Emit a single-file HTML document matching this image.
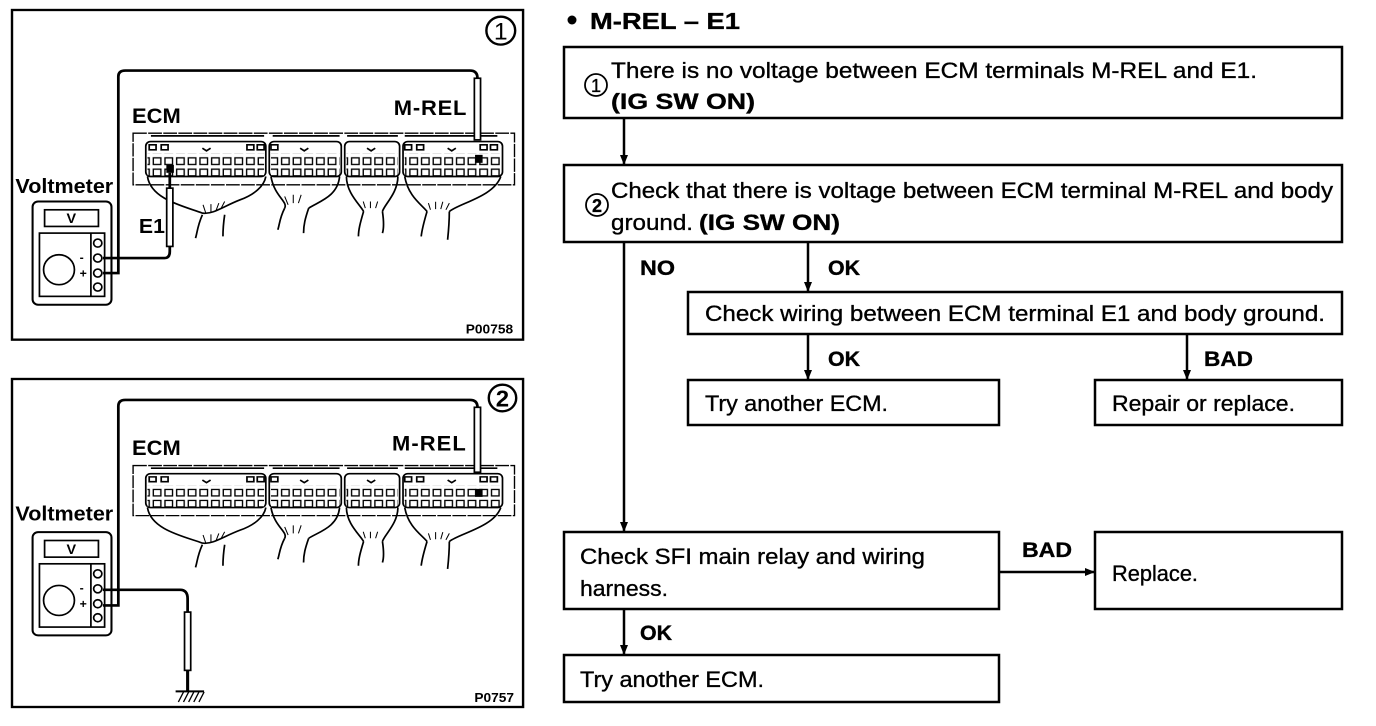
<!DOCTYPE html>
<html><head><meta charset="utf-8"><style>
html,body{margin:0;padding:0;background:#fff}
svg{display:block}
text{font-family:"Liberation Sans",Arial,sans-serif;fill:#000}
.f text{stroke:#000;stroke-width:0.35}
</style></head><body>
<svg width="1376" height="726" viewBox="0 0 1376 726" xmlns="http://www.w3.org/2000/svg">
<defs>
<pattern id="pins" x="0" y="0" width="34" height="34" patternUnits="userSpaceOnUse">
<rect x="5" y="6" width="22" height="20" fill="#fff" stroke="#000" stroke-width="4"/>
</pattern>
<marker id="ar" markerWidth="10" markerHeight="12" refX="9" refY="5" orient="auto" markerUnits="userSpaceOnUse">
<path d="M0,1 L10,5 L0,9 Z" fill="#000"/>
</marker>
<g id="ecm">
 <rect x="388" y="0" width="1112" height="155" fill="none" stroke="#000" stroke-width="4" stroke-dasharray="40 4"/>
 <g stroke="#000" stroke-width="5" fill="#fff">
  <rect x="425" y="25" width="350" height="105" rx="14"/>
  <rect x="785" y="25" width="210" height="105" rx="14"/>
  <rect x="1005" y="25" width="160" height="105" rx="14"/>
  <rect x="1175" y="25" width="290" height="105" rx="14"/>
 </g>
 <g fill="url(#pins)" stroke="none">
  <rect x="430" y="62" width="340" height="68"/>
  <rect x="790" y="62" width="200" height="68"/>
  <rect x="1010" y="62" width="150" height="68"/>
  <rect x="1180" y="62" width="280" height="68"/>
 </g>
 <g stroke="#000" stroke-width="5" fill="none">
  <path d="M440,8 H770 M795,8 H990 M1012,8 H1160 M1180,8 H1450"/>
  <path d="M435,35 h20 v15 h-20z M470,35 h20 v15 h-20z M720,35 h20 v15 h-20z M750,35 h20 v15 h-20z M790,35 h20 v15 h-20z M1180,35 h20 v15 h-20z M1215,35 h20 v15 h-20z M1400,35 h20 v15 h-20z M1430,35 h20 v15 h-20z"/>
  <path d="M590,45 l12,8 l12,-8 M875,45 l12,8 l12,-8 M1070,45 l12,8 l12,-8 M1305,45 l12,8 l12,-8"/>
  <path d="M430,130 C440,200 540,220 590,240 C620,245 650,220 700,200 C740,185 770,160 775,130"/>
  <path d="M790,130 C800,190 840,205 830,225 M990,130 C985,190 930,205 900,225"/>
  <path d="M1010,130 C1010,180 1050,215 1060,235 M1160,130 C1160,180 1120,215 1115,235"/>
  <path d="M1180,130 C1190,190 1230,215 1245,235 M1460,130 C1440,190 1340,210 1310,235"/>
  <path d="M590,245 C575,280 575,300 570,315 M655,245 C650,280 650,300 650,310"/>
  <path d="M830,225 C815,255 815,275 810,290 M900,225 C890,255 885,275 885,300"/>
  <path d="M1060,235 C1050,270 1045,290 1045,310 M1115,235 C1120,270 1118,290 1115,300"/>
  <path d="M1245,235 C1235,270 1230,290 1228,310 M1310,235 C1310,270 1308,290 1305,320"/>
 </g>
 <g stroke="#000" stroke-width="3">
  <path d="M600,240 l-8,-25 M615,238 l0,-25 M630,232 l8,-22 M645,225 l10,-20 M840,215 l-10,-25 M855,210 l0,-25 M870,210 l8,-25 M1065,225 l-6,-20 M1080,225 l0,-20 M1095,225 l6,-20 M1255,230 l-6,-20 M1270,228 l0,-22 M1285,228 l6,-22 M1300,230 l10,-20"/>
 </g>
</g>
<g id="meter">
 <rect x="95" y="0" width="230" height="310" rx="16" fill="none" stroke="#000" stroke-width="6"/>
 <rect x="130" y="25" width="157" height="50" fill="none" stroke="#000" stroke-width="5"/>
 <text x="208" y="65" font-size="42" font-weight="bold" text-anchor="middle">V</text>
 <rect x="115" y="95" width="190" height="190" fill="none" stroke="#000" stroke-width="5"/>
 <line x1="265" y1="95" x2="265" y2="285" stroke="#000" stroke-width="5"/>
 <g fill="#fff" stroke="#000" stroke-width="5">
  <circle cx="285" cy="125" r="12"/><circle cx="285" cy="170" r="12"/><circle cx="285" cy="215" r="12"/><circle cx="285" cy="257" r="12"/>
 </g>
 <circle cx="172" cy="205" r="45" fill="none" stroke="#000" stroke-width="5"/>
 <text x="232" y="180" font-size="36" font-weight="bold">-</text>
 <text x="232" y="228" font-size="36" font-weight="bold">+</text>
</g>
</defs>

<!-- Panel 1 -->
<g transform="translate(0,0) scale(0.343,0.333)">
 <rect x="35" y="30" width="1490" height="990" fill="none" stroke="#000" stroke-width="7"/>
 <circle cx="1460" cy="92" r="42" fill="none" stroke="#000" stroke-width="7"/>
 <text x="1460" y="118" font-size="72" text-anchor="middle">1</text>
 <use href="#ecm" transform="translate(0,400)"/>
 <use href="#meter" transform="translate(0,605)"/>
 <path d="M300,820 H345 V230 Q345,212 365,212 H1370 Q1392,212 1392,235" fill="none" stroke="#000" stroke-width="8"/>
 <rect x="1383" y="235" width="18" height="185" fill="#fff" stroke="#000" stroke-width="5"/>
 <rect x="1385" y="465" width="22" height="24" fill="#000"/>
 <path d="M300,775 H480 Q495,775 495,755 V740" fill="none" stroke="#000" stroke-width="8"/>
 <rect x="486" y="565" width="18" height="175" fill="#fff" stroke="#000" stroke-width="5"/>
 <rect x="485" y="495" width="22" height="24" fill="#000"/>
 <line x1="495" y1="519" x2="495" y2="565" stroke="#000" stroke-width="8"/>
 <text x="385" y="370" font-size="64" font-weight="bold">ECM</text>
 <text x="1148" y="345" font-size="64" font-weight="bold" textLength="212">M-REL</text>
 <text x="45" y="580" font-size="62" font-weight="bold" textLength="285" lengthAdjust="spacingAndGlyphs">Voltmeter</text>
 <text x="405" y="700" font-size="62" font-weight="bold">E1</text>
 <text x="1358" y="1002" font-size="40" font-weight="bold">P00758</text>
</g>

<!-- Panel 2 -->
<g transform="translate(0,369) scale(0.343,0.333)">
 <rect x="35" y="30" width="1490" height="985" fill="none" stroke="#000" stroke-width="7"/>
 <circle cx="1465" cy="87" r="40" fill="none" stroke="#000" stroke-width="7"/>
 <text x="1465" y="112" font-size="70" font-weight="bold" text-anchor="middle">2</text>
 <use href="#ecm" transform="translate(0,290) scale(1,0.97)"/>
 <use href="#meter" transform="translate(0,490)"/>
 <path d="M300,710 H345 V112 Q345,93 365,93 H1370 Q1392,93 1392,115" fill="none" stroke="#000" stroke-width="8"/>
 <rect x="1383" y="115" width="18" height="195" fill="#fff" stroke="#000" stroke-width="5"/>
 <rect x="1385" y="360" width="22" height="24" fill="#000"/>
 <path d="M300,663 H525 Q547,663 547,690 V730" fill="none" stroke="#000" stroke-width="8"/>
 <rect x="538" y="730" width="18" height="175" fill="#fff" stroke="#000" stroke-width="5"/>
 <line x1="547" y1="905" x2="547" y2="968" stroke="#000" stroke-width="9"/>
 <line x1="512" y1="968" x2="595" y2="968" stroke="#000" stroke-width="6"/>
 <path d="M520,1000 l15,-30 M535,1000 l15,-30 M550,1000 l15,-30 M565,1000 l15,-30 M580,1000 l15,-30" stroke="#000" stroke-width="4"/>
 <text x="385" y="258" font-size="64" font-weight="bold">ECM</text>
 <text x="1143" y="245" font-size="64" font-weight="bold" textLength="215">M-REL</text>
 <text x="45" y="455" font-size="62" font-weight="bold" textLength="285" lengthAdjust="spacingAndGlyphs">Voltmeter</text>
 <text x="1383" y="1000" font-size="40" font-weight="bold">P0757</text>
</g>

<!-- Flowchart -->
<g fill="none" stroke="#000" stroke-width="2.5">
 <rect x="564" y="47" width="778" height="71"/>
 <rect x="564" y="165" width="778" height="77"/>
 <rect x="688" y="292" width="654" height="42"/>
 <rect x="688" y="380" width="311" height="45"/>
 <rect x="1095" y="380" width="247" height="45"/>
 <rect x="564" y="532" width="435" height="77"/>
 <rect x="1095" y="532" width="247" height="77"/>
 <rect x="564" y="655" width="435" height="47"/>
 <line x1="624" y1="118" x2="624" y2="164" marker-end="url(#ar)"/>
 <line x1="624" y1="242" x2="624" y2="531" marker-end="url(#ar)"/>
 <line x1="808" y1="242" x2="808" y2="291" marker-end="url(#ar)"/>
 <line x1="808" y1="334" x2="808" y2="379" marker-end="url(#ar)"/>
 <line x1="1187" y1="334" x2="1187" y2="379" marker-end="url(#ar)"/>
 <line x1="999" y1="572" x2="1094" y2="572" marker-end="url(#ar)"/>
 <line x1="624" y1="609" x2="624" y2="654" marker-end="url(#ar)"/>
</g>
<circle cx="572" cy="20" r="4.5" fill="#000"/>
<g class="f">
<text x="590" y="29" font-size="23" font-weight="bold" textLength="150" lengthAdjust="spacingAndGlyphs">M-REL – E1</text>
<circle cx="596" cy="85" r="11" fill="none" stroke="#000" stroke-width="1.8"/>
<text x="596" y="92" font-size="18" text-anchor="middle">1</text>
<text x="611" y="78" font-size="22" textLength="646" lengthAdjust="spacingAndGlyphs">There is no voltage between ECM terminals M-REL and E1.</text>
<text x="611" y="109" font-size="22" font-weight="bold" textLength="144" lengthAdjust="spacingAndGlyphs">(IG SW ON)</text>
<circle cx="597" cy="205" r="11" fill="none" stroke="#000" stroke-width="1.8"/>
<text x="597" y="212" font-size="18" font-weight="bold" text-anchor="middle">2</text>
<text x="611" y="198" font-size="22" textLength="722" lengthAdjust="spacingAndGlyphs">Check that there is voltage between ECM terminal M-REL and body</text>
<text x="611" y="230" font-size="22" textLength="82" lengthAdjust="spacingAndGlyphs">ground.</text>
<text x="699" y="230" font-size="22" font-weight="bold" textLength="141" lengthAdjust="spacingAndGlyphs">(IG SW ON)</text>
<text x="640" y="275" font-size="21" font-weight="bold" textLength="35" lengthAdjust="spacingAndGlyphs">NO</text>
<text x="828" y="275" font-size="21" font-weight="bold" textLength="32" lengthAdjust="spacingAndGlyphs">OK</text>
<text x="705" y="321" font-size="22" textLength="620" lengthAdjust="spacingAndGlyphs">Check wiring between ECM terminal E1 and body ground.</text>
<text x="828" y="366" font-size="21" font-weight="bold" textLength="32" lengthAdjust="spacingAndGlyphs">OK</text>
<text x="1204" y="366" font-size="21" font-weight="bold" textLength="49" lengthAdjust="spacingAndGlyphs">BAD</text>
<text x="705" y="411" font-size="22" textLength="183" lengthAdjust="spacingAndGlyphs">Try another ECM.</text>
<text x="1112" y="411" font-size="22" textLength="183" lengthAdjust="spacingAndGlyphs">Repair or replace.</text>
<text x="580" y="564" font-size="22" textLength="345" lengthAdjust="spacingAndGlyphs">Check SFI main relay and wiring</text>
<text x="580" y="596" font-size="22" textLength="88" lengthAdjust="spacingAndGlyphs">harness.</text>
<text x="1022" y="557" font-size="21" font-weight="bold" textLength="50" lengthAdjust="spacingAndGlyphs">BAD</text>
<text x="1112" y="581" font-size="22" textLength="86" lengthAdjust="spacingAndGlyphs">Replace.</text>
<text x="640" y="640" font-size="21" font-weight="bold" textLength="32" lengthAdjust="spacingAndGlyphs">OK</text>
<text x="580" y="687" font-size="22" textLength="184" lengthAdjust="spacingAndGlyphs">Try another ECM.</text>
</g>
</svg>
</body></html>
